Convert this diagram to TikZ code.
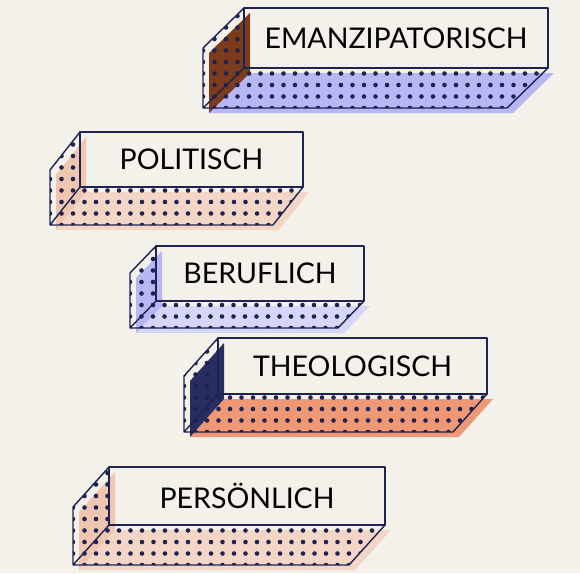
\documentclass[tikz,border=0pt]{standalone}
\usepackage{fontspec}
\setmainfont{Lato}
\usetikzlibrary{calc}
\definecolor{paper}{HTML}{F4F1EA}
\definecolor{ink}{HTML}{1E2352}
\definecolor{rust}{HTML}{7B3B1C}
\definecolor{lav}{HTML}{B7B7F5}
\definecolor{lavpale}{HTML}{D6D6F8}
\definecolor{peach}{HTML}{F0C6B0}
\definecolor{peachpale}{HTML}{F4D6C7}
\definecolor{salmon}{HTML}{EE9876}
\definecolor{navyshade}{HTML}{2A2D62}
\tikzset{
  outline/.style={draw=ink, line width=1.4pt, line join=round},
  boxtext/.style={text=black, font=\fontsize{28.5}{30}\selectfont, inner sep=0pt},
}

\begin{document}
\begin{tikzpicture}[x=1pt,y=-1pt]
\fill[paper] (0,0) rectangle (580,573);
\useasboundingbox (0,0) rectangle (580,573);
\foreach \nm/\xa/\ya/\xb/\yb/\dx/\dy/\cl/\cb/\txt in {
  emanz/244/8/548/68/-41/40/rust/lav/EMANZIPATORISCH,
  polit/80/132/303/187/-30/38/peach/peachpale/POLITISCH,
  beruf/156/246/364/301/-26/27/lav/lavpale/BERUFLICH,
  theol/218/338/487/394/-34/38/navyshade/salmon/THEOLOGISCH,
  perso/109/467/385/525/-36/40/peach/peachpale/PERSÖNLICH}{
  \coordinate (A) at (\xa,\ya); \coordinate (B) at (\xb,\ya);
  \coordinate (C) at (\xb,\yb); \coordinate (D) at (\xa,\yb);
  \coordinate (A') at ($(A)+(\dx,\dy)$);
  \coordinate (C') at ($(C)+(\dx,\dy)$);
  \coordinate (D') at ($(D)+(\dx,\dy)$);
  % shadows
  \fill[\cb] ([shift={(6,5)}]D) -- ([shift={(6,5)}]C) -- ([shift={(6,5)}]C') -- ([shift={(6,5)}]D') -- cycle;
  \fill[\cl] ([shift={(6,5)}]A) -- ([shift={(6,5)}]D) -- ([shift={(6,5)}]D') -- ([shift={(6,5)}]A') -- cycle;
  % dots
  \begin{scope}
    \clip (A) -- (D) -- (C) -- (C') -- (D') -- (A') -- cycle;
    \foreach \i in {0,...,31}{\foreach \j in {0,...,9}{
      \fill[ink] ($(D')+(\i*11.5,-\j*11.5)$) circle (2.3);}}
  \end{scope}
  \draw[outline] (A) -- (B) -- (C) -- (D) -- cycle;
  \draw[outline] (A) -- (A') -- (D') -- (C') -- (C) (D) -- (D');
  \node[boxtext] (\nm) at ($(A)!0.5!(C)$) {\txt};
}
\end{tikzpicture}
\end{document}
